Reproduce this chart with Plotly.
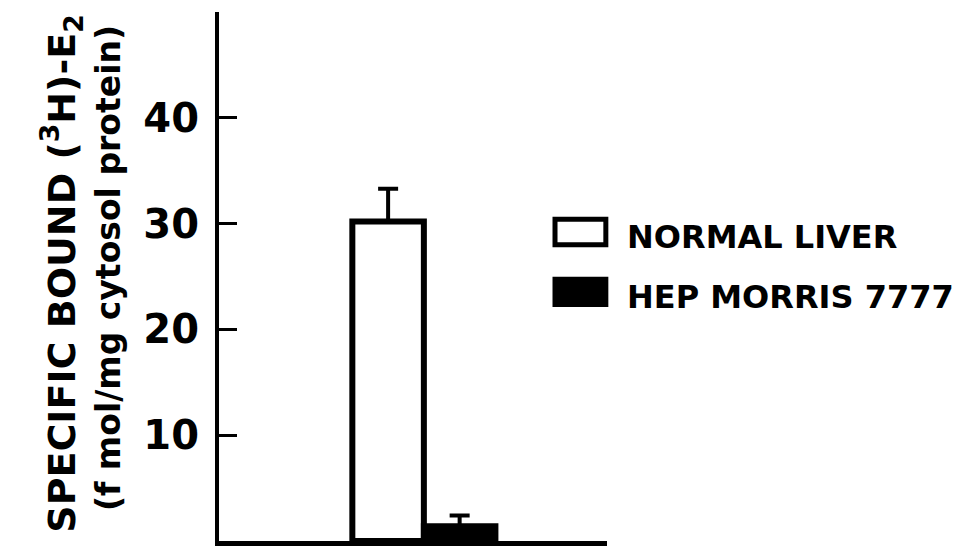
import plotly.graph_objects as go

# Data
groups = ["NORMAL LIVER", "HEP MORRIS 7777"]
positions = [1, 2]
values = [30.2, 1.4]
errors_up = [3.1, 1.0]
fills = ["white", "black"]

ytick_vals = [10, 20, 30, 40]
ytick_text = [str(v) for v in ytick_vals]

fig = go.Figure()
for g, xp, v, e, f in zip(groups, positions, values, errors_up, fills):
    fig.add_trace(go.Bar(
        x=[xp], y=[v], width=1, name=g, showlegend=False,
        marker=dict(color=f, line=dict(color="black", width=6)),
        error_y=dict(type="data", symmetric=False, array=[e], arrayminus=[0],
                     color="black", thickness=4, width=10),
    ))

# page has an 8px body margin, so the figure is sized/positioned to compensate
fig.update_layout(
    width=971, height=540,
    margin=dict(l=211, r=372, t=4, b=7),
    paper_bgcolor="white", plot_bgcolor="white",
    barmode="overlay",
    showlegend=False,
    font=dict(family="DejaVu Sans", color="black"),
)
fig.update_xaxes(range=[-1.364, 4.06], showline=True, linecolor="black", linewidth=5,
                 showticklabels=False, ticks="", showgrid=False, zeroline=False)
fig.update_yaxes(range=[0, 50], showline=True, linecolor="black", linewidth=4,
                 tickvals=ytick_vals, ticktext=ytick_text, ticks="inside", ticklen=18,
                 tickwidth=3, tickcolor="black", showgrid=False, zeroline=False,
                 tickfont=dict(family="DejaVu Sans", size=40, color="black", weight="bold"),
                 ticklabelstandoff=8)

# Y-axis title (two rotated lines)
fig.add_annotation(text="SPECIFIC BOUND (<sup>3</sup>H)-E<sub>2</sub>", xref="paper", yref="paper",
                   x=-0.405, y=0.505, textangle=-90, showarrow=False,
                   xanchor="center", yanchor="middle",
                   font=dict(family="DejaVu Sans", size=38, color="black", weight="bold"))
fig.add_annotation(text="(f mol/mg cytosol protein)", xref="paper", yref="paper",
                   x=-0.286, y=0.516, textangle=-90, showarrow=False,
                   xanchor="center", yanchor="middle",
                   font=dict(family="DejaVu Sans", size=33, color="black", weight="bold"))

# Legend drawn manually
box_y = [0.584, 0.471]
text_y = [0.575, 0.461]
for g, f, yb, yt in zip(groups, fills, box_y, text_y):
    fig.add_shape(type="rect", xref="paper", yref="paper",
                  x0=0.866, x1=0.997, y0=yb - 0.024, y1=yb + 0.024,
                  line=dict(color="black", width=5), fillcolor=f)
    fig.add_annotation(text=g, xref="paper", yref="paper", x=1.046, y=yt,
                       xanchor="left", yanchor="middle", showarrow=False,
                       font=dict(family="DejaVu Sans", size=32, color="black", weight="bold"))

fig.write_html("out.html")
